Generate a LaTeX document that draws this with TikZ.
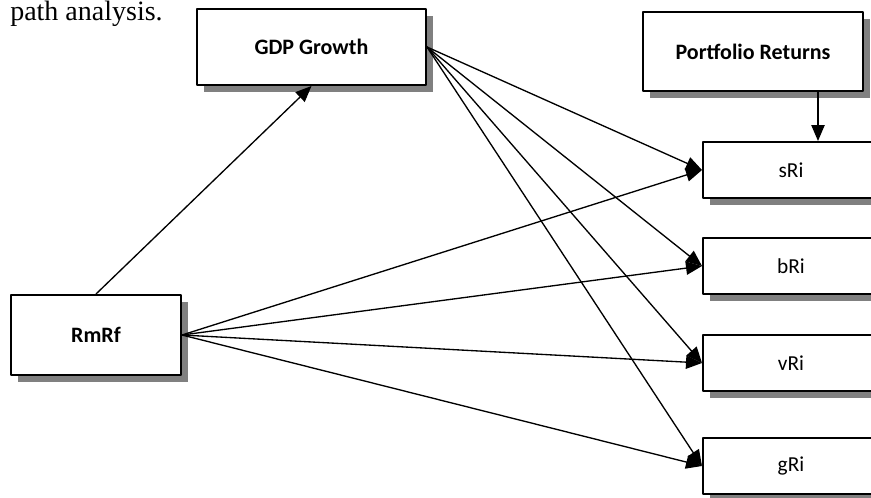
\documentclass[tikz,border=0pt]{standalone}
\usepackage{fontspec}
\setmainfont{Liberation Serif}
\newfontfamily\boxfont{Carlito}
\usepackage{tikz}
\usetikzlibrary{calc}
\usetikzlibrary{arrows.meta}
\usetikzlibrary{shadows}
\definecolor{shadowgray}{rgb}{0.5,0.5,0.5}
\tikzset{
  varbox/.style={draw=black,line width=1.5pt,fill=white,inner sep=0pt,
    font=\boxfont\fontsize{16}{18}\selectfont,
    drop shadow={shadow xshift=5pt,shadow yshift=-5pt,fill=shadowgray,opacity=1}},
  keybox/.style={varbox,font=\boxfont\bfseries\fontsize{16.5}{18}\selectfont},
  retbox/.style={varbox,minimum width=150pt,minimum height=42pt},
  path/.style={->,line width=1pt}
}

\begin{document}
\begin{tikzpicture}[line cap=round,line join=round,>={Triangle[length=12pt,width=10pt]},x=0.75pt,y=-0.75pt]
\useasboundingbox (0,0) rectangle (871,497);
\node[anchor=base west,font=\fontsize{21}{23}\selectfont,inner sep=0pt] (title) at (10,20) {path analysis.};
\node[keybox,minimum width=171.75pt,minimum height=57pt] (gdp) at (311.5,47) {GDP Growth};
\node[keybox,minimum width=165pt,minimum height=59.25pt] (port) at (753,51.5) {Portfolio Returns};
\node[keybox,minimum width=127.5pt,minimum height=60pt] (rmrf) at (96,335) {RmRf};
% boxes run past the right edge; text sits left of centre
\node[retbox] (sri) at (803,170) {sRi\hspace*{18pt}};
\node[retbox] (bri) at (803,266) {bRi\hspace*{18pt}};
\node[retbox] (vri) at (803,363) {vRi\hspace*{18pt}};
\node[retbox] (gri) at (803,466) {gRi\hspace*{18pt}};
\coordinate (srin) at ($(sri.north)+(15,0)$);
\draw [path] (rmrf.north) -- (gdp.south);
\draw [path] (srin |- port.south) -- (srin);
\foreach \r in {sri,bri,vri,gri}{
  \draw [path] (gdp.east) -- (\r.west);
  \draw [path] (rmrf.east) -- (\r.west);
}
\end{tikzpicture}
\end{document}
